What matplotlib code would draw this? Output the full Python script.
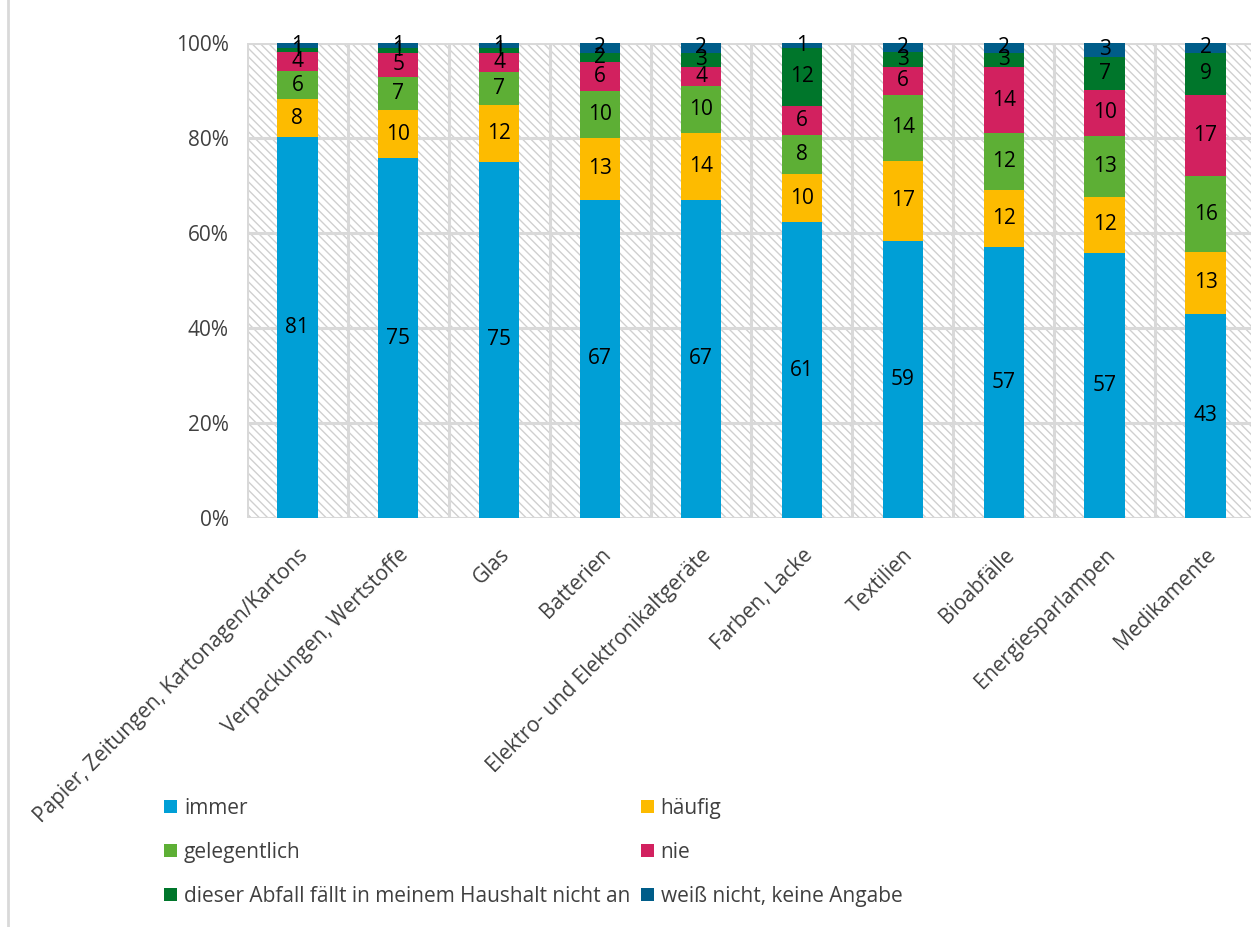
import numpy as np
import matplotlib.pyplot as plt
from matplotlib.patches import Rectangle
from matplotlib.lines import Line2D

categories = ["Papier, Zeitungen, Kartonagen/Kartons", "Verpackungen, Wertstoffe", "Glas",
              "Batterien", "Elektro- und Elektronikaltgeräte", "Farben, Lacke", "Textilien",
              "Bioabfälle", "Energiesparlampen", "Medikamente"]
series_names = ["immer", "häufig", "gelegentlich", "nie",
                "dieser Abfall fällt in meinem Haushalt nicht an", "weiß nicht, keine Angabe"]
immer = [81, 75, 75, 67, 67, 61, 59, 57, 57, 43]
haeufig = [8, 10, 12, 13, 14, 10, 17, 12, 12, 13]
gelegentlich = [6, 7, 7, 10, 10, 8, 14, 12, 13, 16]
nie = [4, 5, 4, 6, 4, 6, 6, 14, 10, 17]
faellt_nicht_an = [1, 1, 1, 2, 3, 12, 3, 3, 7, 9]
weiss_nicht = [1, 1, 1, 2, 2, 1, 2, 2, 3, 2]
colors = ["#009FD6", "#FDBB00", "#5DAF35", "#D2215F", "#00762B", "#005D89"]

plt.rcParams['font.family'] = ['Open Sans', 'DejaVu Sans']
plt.rcParams['hatch.linewidth'] = 1.0
plt.rcParams['hatch.color'] = '#D0D0D0'


def plot_data():
    data = np.array([immer, haeufig, gelegentlich, nie, faellt_nicht_an, weiss_nicht], dtype=float)
    shares = data / data.sum(axis=0) * 100
    x = np.arange(len(categories))

    fig = plt.figure(figsize=(12.51, 9.27), dpi=100)
    ax = fig.add_axes([0.1974, 0.4412, 0.8066, 0.5124])

    # schraffierter Hintergrund
    ax.add_patch(Rectangle((-0.5, 0), len(categories), 100, facecolor="white",
                           edgecolor="#D0D0D0", hatch="\\\\\\\\", linewidth=0, zorder=0))
    for yv in range(0, 101, 20):
        ax.axhline(yv, color="#D9D9D9", linewidth=2.2, zorder=1)
    for xv in np.arange(-0.5, len(categories), 1.0):
        ax.axvline(xv, color="#D9D9D9", linewidth=2.2, zorder=1)

    bottom = np.zeros(len(categories))
    handles = []
    for i, name in enumerate(series_names):
        bars = ax.bar(x, shares[i], 0.4, bottom=bottom, color=colors[i], label=name, zorder=2)
        handles.append(bars)
        for xi, b, h, v in zip(x, bottom, shares[i], data[i]):
            ax.text(xi, b + h / 2, f"{int(v)}", ha="center", va="center",
                    fontsize=15, color="black", zorder=3)
        bottom += shares[i]

    ax.set_xlim(-0.5, len(categories) - 0.5)
    ax.set_ylim(0, 100)
    ax.set_yticks(range(0, 101, 20))
    ax.set_yticklabels([f"{v}%" for v in range(0, 101, 20)], fontsize=15, color="#404040")
    ax.set_xticks(x)
    ax.set_xticklabels(categories, rotation=45, ha="right", va="top", rotation_mode="anchor",
                       fontsize=15, color="#404040")
    ax.tick_params(axis="y", length=0, pad=13)
    ax.tick_params(axis="x", length=0, pad=19)
    for s in ax.spines.values():
        s.set_visible(False)

    order = [0, 2, 4, 1, 3, 5]
    fig.legend([handles[k] for k in order], [series_names[k] for k in order],
               ncol=2, loc="upper left", bbox_to_anchor=(0.131, 0.1395),
               frameon=False, fontsize=15, handlelength=0.62, handleheight=0.62,
               handletextpad=0.34, columnspacing=0.5, labelspacing=1.11,
               borderpad=0, borderaxespad=0, labelcolor="#404040")

    # linker Rand des Diagrammbereichs
    fig.add_artist(Line2D([8 / 1251, 8 / 1251], [0, 1], transform=fig.transFigure,
                          color="#D9D9D9", linewidth=2))

    fig.savefig("out.png", dpi=100)


def main():
    plot_data()


if __name__ == "__main__":
    main()
